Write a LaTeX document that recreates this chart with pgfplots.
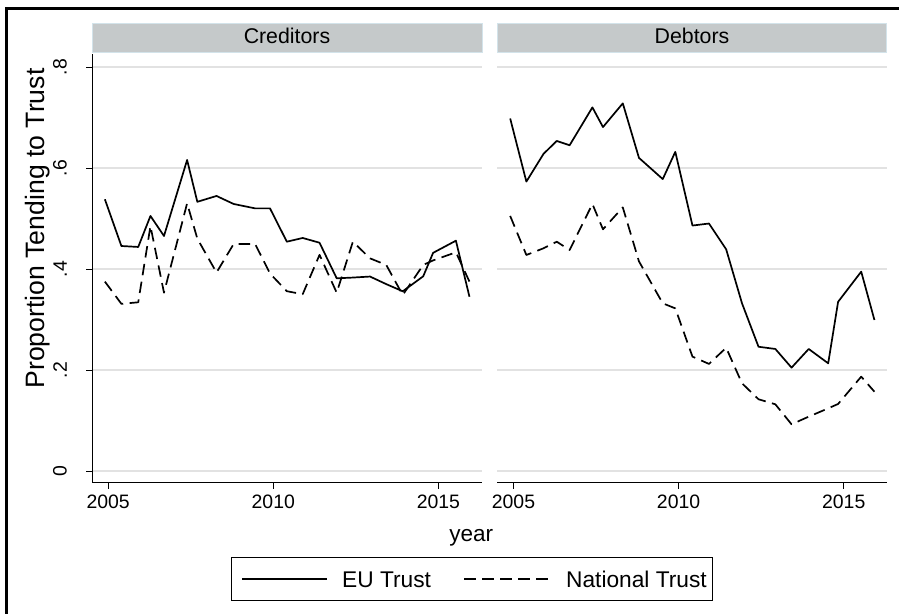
\documentclass[border=0pt]{standalone}
\usepackage{fontspec}
\setmainfont{Liberation Sans}
\usepackage{pgfplots}
\pgfplotsset{compat=1.18}
\definecolor{stripgray}{HTML}{C5C9CA}
\definecolor{stripedge}{HTML}{D3E3EA}
\definecolor{gridgray}{HTML}{E2E2E2}

\pgfplotstableread{
x eu nat
2004.90 0.538  0.375
2005.40 0.4455 0.331
2005.91 0.4436 0.334
2006.28 0.505  0.485
2006.69 0.4653 0.353
2007.39 0.6158 0.530
2007.70 0.533  0.460
2008.28 0.5446 0.393
2008.80 0.5287 0.4495
2009.45 0.520  0.4495
2009.90 0.520  0.391
2010.41 0.454  0.356
2010.89 0.4614 0.350
2011.40 0.452  0.428
2011.92 0.3815 0.353
2012.41 0.383  0.454
2012.93 0.385  0.421
2013.42 0.370  0.408
2013.92 0.3558 0.3485
2014.54 0.3855 0.408
2014.84 0.432  0.417
2015.53 0.456  0.433
2015.94 0.345  0.375
}\creditors

\pgfplotstableread{
x eu nat
2004.90 0.698  0.505
2005.39 0.573  0.4277
2005.91 0.628  0.441
2006.31 0.6535 0.454
2006.70 0.645  0.4376
2007.39 0.720  0.5287
2007.71 0.681  0.4785
2008.31 0.728  0.522
2008.80 0.620  0.415
2009.52 0.578  0.332
2009.90 0.632  0.322
2010.42 0.486  0.2264
2010.92 0.490  0.212
2011.44 0.439  0.244
2011.92 0.332  0.1736
2012.42 0.246  0.142
2012.93 0.2416 0.132
2013.42 0.2046 0.0924
2013.94 0.2416 0.1076
2014.53 0.2132 0.124
2014.83 0.335  0.1327
2015.53 0.3947 0.1868
2015.93 0.299  0.157
}\debtors

\pgfplotsset{
  panel/.style={
    scale only axis,
    width=390bp, height=429bp,
    anchor=south west,
    xmin=2004.51, xmax=2016.32,
    ymin=-0.0238, ymax=0.8257,
    axis lines=left,
    axis line style={-, black, line width=1bp},
    tick align=outside,
    major tick length=6bp,
    tick style={black, line width=0.9bp},
    xtick={2005,2010,2015},
    xticklabels={2005,2010,2015},
    ytick={0,0.2,0.4,0.6,0.8},
    ymajorgrids,
    major grid style={gridgray, line width=1.5bp},
    xticklabel style={font=\fontsize{19.5}{20}\selectfont, inner sep=0pt, yshift=-6bp},
    /pgf/number format/assume math mode=true,
  },
  eu/.style={black, line width=1.7bp, line join=round},
  nat/.style={black, line width=1.7bp, dash pattern=on 11.5bp off 6.5bp, line join=round},
}

\begin{document}
\begin{tikzpicture}
\useasboundingbox (0bp,0bp) rectangle (899bp,614bp);

% Creditors panel
\begin{axis}[panel, at={(92bp,131bp)},
  yticklabels={0,.2,.4,.6,.8},
  yticklabel style={font=\fontsize{19.5}{20}\selectfont, rotate=90, anchor=south, inner sep=0pt},
  yticklabel shift=19bp,
]
\addplot[eu] table[x=x, y=eu] {\creditors};
\addplot[nat] table[x=x, y=nat] {\creditors};
\end{axis}

% Debtors panel
\begin{axis}[panel, at={(497.3bp,131bp)},
  y axis line style={draw=none},
  ytick style={draw=none},
  yticklabels={},
]
\addplot[eu] table[x=x, y=eu] {\debtors};
\addplot[nat] table[x=x, y=nat] {\debtors};
\end{axis}

\begin{scope}[x=1bp,y=1bp]
% outer frame edges
\draw[black, line width=2.7bp] (6.5,0) -- (6.5,605.3) -- (899,605.3);
% strips
\draw[fill=stripgray, draw=stripedge, line width=1bp] (92,561) rectangle (482,590);
\draw[fill=stripgray, draw=stripedge, line width=1bp] (497.3,561) rectangle (886.7,590);
\node[anchor=base, inner sep=0pt, font=\fontsize{21.4}{22}\selectfont] at (287,570.7) {Creditors};
\node[anchor=base, inner sep=0pt, font=\fontsize{21.4}{22}\selectfont] at (692,570.7) {Debtors};

% axis titles
\node[anchor=base, inner sep=0pt, rotate=90, font=\fontsize{26.7}{28}\selectfont] at (44,385.5) {Proportion Tending to Trust};
\node[anchor=base, inner sep=0pt, font=\fontsize{22.6}{24}\selectfont] at (471.3,73) {year};

% legend
\draw[black, line width=1bp] (231,13) rectangle (712,56);
\draw[black, line width=1.7bp] (242,34.7) -- (327,34.7);
\node[anchor=base west, inner sep=0pt, font=\fontsize{22.8}{24}\selectfont] at (342,26.7) {EU Trust};
\draw[black, line width=1.7bp, dash pattern=on 11.5bp off 6.5bp] (464,34.7) -- (551,34.7);
\node[anchor=base west, inner sep=0pt, font=\fontsize{22.8}{24}\selectfont] at (566,26.7) {National Trust};
\end{scope}
\end{tikzpicture}
\end{document}
